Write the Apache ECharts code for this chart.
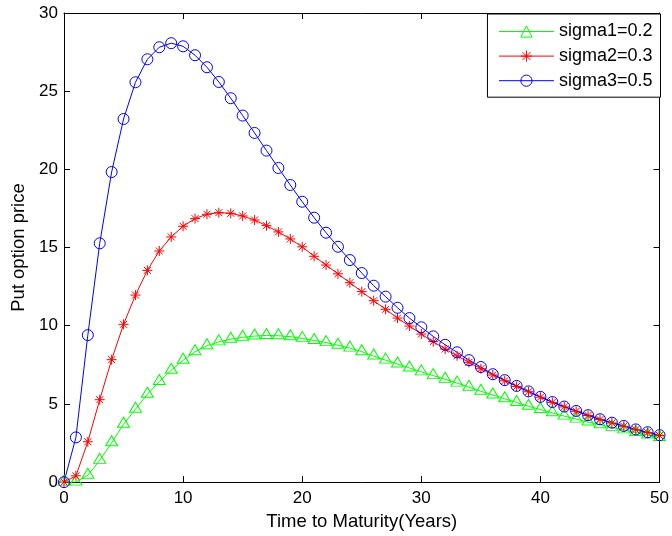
<!DOCTYPE html>
<html><head><meta charset="utf-8">
<script src="https://cdn.jsdelivr.net/npm/echarts@6/dist/echarts.min.js"></script>
<style>html,body{margin:0;padding:0;background:#fff}#c{width:672px;height:536px}</style>
</head><body><div id="c"></div>
<script>
const years = [0,1,2,3,4,5,6,7,8,9,10,11,12,13,14,15,16,17,18,19,20,21,22,23,24,25,26,27,28,29,30,31,32,33,34,35,36,37,38,39,40,41,42,43,44,45,46,47,48,49,50];
const sigma1 = [0,0,0.44,1.39,2.52,3.70,4.66,5.62,6.43,7.15,7.79,8.34,8.72,8.97,9.14,9.26,9.34,9.38,9.36,9.30,9.19,9.06,8.92,8.75,8.57,8.34,8.06,7.80,7.55,7.30,7.05,6.81,6.58,6.33,6.07,5.81,5.57,5.33,5.09,4.85,4.64,4.43,4.22,4.03,3.84,3.67,3.50,3.34,3.17,3.01,2.85];
const sigma2 = [0,0.4,2.58,5.27,7.83,10.09,11.96,13.54,14.78,15.68,16.36,16.85,17.13,17.23,17.19,17.02,16.76,16.40,16.00,15.55,15.05,14.44,13.88,13.32,12.75,12.18,11.60,11.05,10.49,9.98,9.47,8.98,8.51,8.08,7.66,7.25,6.85,6.48,6.12,5.78,5.43,5.10,4.81,4.53,4.26,4.00,3.78,3.57,3.35,3.17,2.98];
const sigma3 = [0,2.86,9.40,15.27,19.83,23.22,25.57,27.04,27.81,28.07,27.87,27.30,26.53,25.59,24.55,23.44,22.33,21.20,20.09,19.00,17.93,16.91,15.95,15.05,14.20,13.37,12.56,11.86,11.15,10.49,9.90,9.32,8.78,8.30,7.80,7.36,6.90,6.52,6.15,5.80,5.45,5.12,4.83,4.55,4.28,4.02,3.80,3.59,3.37,3.19,3.00];
const seriesNames = ['sigma1=0.2','sigma2=0.3','sigma3=0.5'];
const xName = 'Time to Maturity(Years)';
const yName = 'Put option price';

const FONT = 'Liberation Sans, Arial, sans-serif';
const pairs = ys => years.map((x,i)=>[x, ys[i]]);
const tick = {show:true, inside:true, length:6, lineStyle:{color:'#000', width:1}};
const axLine = {show:true, onZero:false, lineStyle:{color:'#000', width:1}};
const lbl = {color:'#000', fontSize:17, fontFamily:FONT};
const nameLbl = {color:'#000', fontSize:18.5, fontFamily:FONT};

const chart = echarts.init(document.getElementById('c'), null, {renderer:'canvas'});
chart.setOption({
  animation:false,
  backgroundColor:'#fff',
  grid:{left:64, right:11, top:13, bottom:52, containLabel:false},
  xAxis:[
    {type:'value', min:0, max:50, interval:10, position:'bottom', axisLine:axLine, axisTick:tick,
     axisLabel:Object.assign({margin:8}, lbl), splitLine:{show:false},
     name:xName, nameLocation:'middle', nameGap:26, nameTextStyle:nameLbl},
    {type:'value', min:0, max:50, interval:10, position:'top', axisLine:axLine, axisTick:tick,
     axisLabel:{show:false}, splitLine:{show:false}}
  ],
  yAxis:[
    {type:'value', min:0, max:30, interval:5, position:'left', axisLine:axLine, axisTick:tick,
     axisLabel:Object.assign({margin:6}, lbl), splitLine:{show:false},
     name:yName, nameLocation:'middle', nameGap:34, nameRotate:90, nameTextStyle:nameLbl},
    {type:'value', min:0, max:30, interval:5, position:'right', axisLine:axLine, axisTick:tick,
     axisLabel:{show:false}, splitLine:{show:false}}
  ],
  legend:{
    orient:'vertical', right:11.5, top:14, backgroundColor:'#fff',
    borderColor:'#000', borderWidth:1, borderRadius:0,
    padding:[8.5,8,7.5,11], itemGap:6.6, itemWidth:55, itemHeight:14,
    lineStyle:{width:1, color:'inherit'},
    itemStyle:{borderWidth:1, borderColor:'inherit', color:'inherit'},
    textStyle:{color:'#000', fontSize:18, fontFamily:FONT},
    data:seriesNames
  },
  series:[
    {name:seriesNames[0], type:'line', data:pairs(sigma1), showAllSymbol:true,
     symbol:'triangle', symbolSize:[12,10], symbolOffset:[0,-2],
     lineStyle:{color:'#00ff00', width:1},
     itemStyle:{color:'rgba(0,0,0,0)', borderColor:'#00ff00', borderWidth:1}},
    {name:seriesNames[1], type:'line', data:pairs(sigma2), showAllSymbol:true,
     symbol:'path://M5,0L5,10M0,5L10,5M1.5,1.5L8.5,8.5M1.5,8.5L8.5,1.5', symbolSize:10,
     lineStyle:{color:'#ff0000', width:1},
     itemStyle:{color:'rgba(0,0,0,0)', borderColor:'#ff0000', borderWidth:1}},
    {name:seriesNames[2], type:'line', data:pairs(sigma3), showAllSymbol:true,
     symbol:'circle', symbolSize:11,
     lineStyle:{color:'#0000ff', width:1},
     itemStyle:{color:'rgba(0,0,0,0)', borderColor:'#0000ff', borderWidth:1}}
  ]
});
</script></body></html>
